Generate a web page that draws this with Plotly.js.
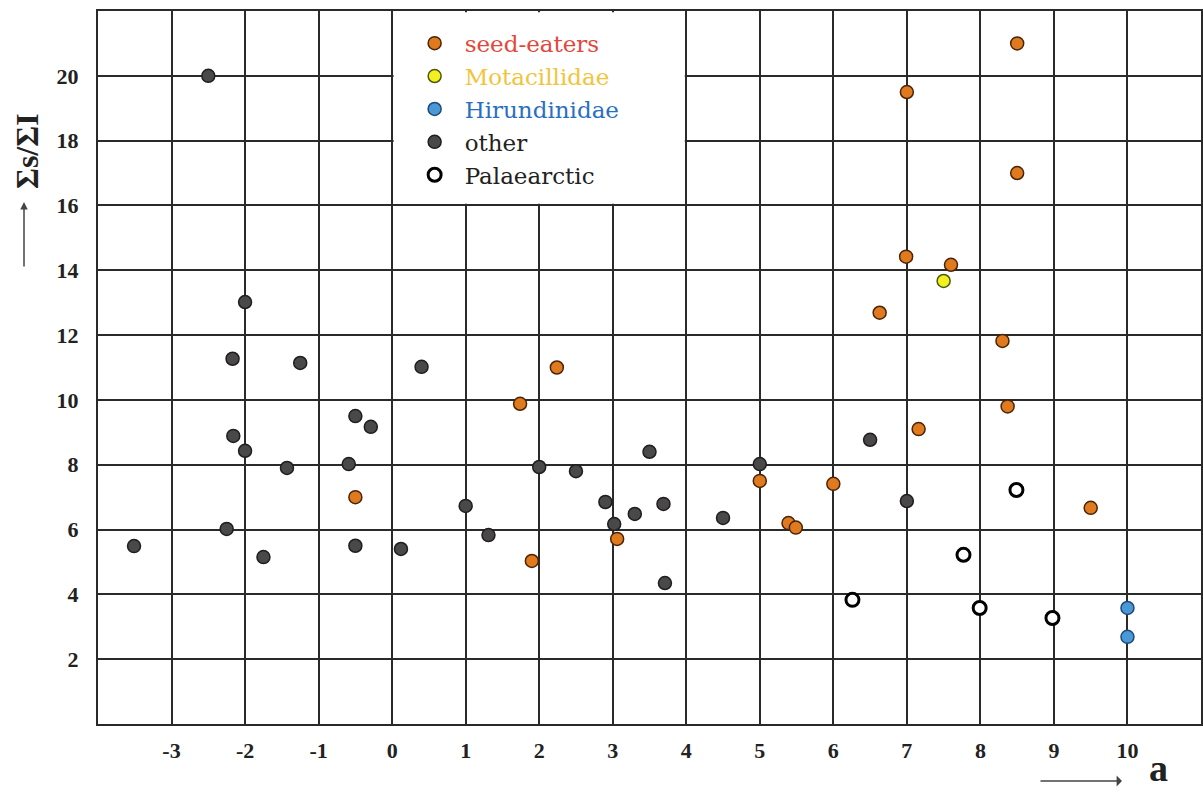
<!DOCTYPE html>
<html><head><meta charset="utf-8">
<script src="https://cdn.plot.ly/plotly-3.0.1.min.js"></script>
<style>html,body{margin:0;padding:0;background:#fff;} #chart{width:1203px;height:792px;}</style>
</head><body><div id="chart"></div>
<script>
// x tick labels
const xTicks = [-3,-2,-1,0,1,2,3,4,5,6,7,8,9,10];
const yTicks = [2,4,6,8,10,12,14,16,18,20];

// seed-eaters
const seedX = [-0.5, 1.74, 2.24, 1.9, 3.06, 5.0, 5.39, 5.49, 6.0, 7.16, 8.37, 8.3, 6.63, 6.99, 7.6, 8.5, 7.0, 8.5, 9.5];
const seedY = [7.0, 9.88, 11.0, 5.03, 5.71, 7.5, 6.2, 6.06, 7.41, 9.1, 9.8, 11.82, 12.69, 14.42, 14.17, 17.0, 19.5, 21.0, 6.67];

// Motacillidae
const motaX = [7.5];
const motaY = [13.67];

// Hirundinidae
const hiruX = [10.0, 10.0];
const hiruY = [3.58, 2.69];

// other
const otherX = [-2.5, -2.0, -2.17, -1.25, 0.4, -0.5, -0.29, -2.16, -2.0, -1.43, -0.59, 2.0, 2.5, 3.5, 5.0, 2.9, 3.69, 3.3, 3.02, 4.5, 1.0, 1.31, 3.71, 0.12, -3.51, -2.25, -1.75, -0.5, 7.0, 6.5];
const otherY = [20.0, 13.02, 11.27, 11.14, 11.02, 9.5, 9.17, 8.89, 8.43, 7.9, 8.02, 7.93, 7.8, 8.4, 8.02, 6.85, 6.79, 6.48, 6.17, 6.36, 6.73, 5.83, 4.35, 5.4, 5.49, 6.02, 5.15, 5.5, 6.88, 8.77];

// Palaearctic
const palX = [6.26, 7.77, 8.49, 7.99, 8.98];
const palY = [3.83, 5.22, 7.22, 3.58, 3.27];

const names = {
  seed: '<span style="color:#e2483a">seed-eaters</span>',
  mota: '<span style="color:#f2c43c">Motacillidae</span>',
  hiru: '<span style="color:#2a6fbf">Hirundinidae</span>',
  other: '<span style="color:#222">other</span>',
  pal: '<span style="color:#222">Palaearctic</span>'
};

const mk = (fill, line, lw) => ({size: 13, color: fill, line: {color: line, width: lw}});

const traces = [
  {x: seedX, y: seedY, name: names.seed, mode: 'markers', type: 'scatter', marker: mk('#e07a1e', '#4a2408', 1.5)},
  {x: motaX, y: motaY, name: names.mota, mode: 'markers', type: 'scatter', marker: mk('#f4f020', '#4a5a10', 1.5)},
  {x: hiruX, y: hiruY, name: names.hiru, mode: 'markers', type: 'scatter', marker: mk('#4a98d6', '#1c4a7a', 1.5)},
  {x: otherX, y: otherY, name: names.other, mode: 'markers', type: 'scatter', marker: mk('#4a4848', '#1e1e1e', 1.5)},
  {x: palX, y: palY, name: names.pal, mode: 'markers', type: 'scatter', marker: mk('#ffffff', '#000000', 3)}
];

const serif = 'Liberation Serif';
const tickFont = {family: serif, size: 22, color: '#222', weight: 'bold'};

const layout = {
  width: 1203, height: 792,
  margin: {l: 98, r: 2, t: 11, b: 68},
  paper_bgcolor: '#fff', plot_bgcolor: '#fff',
  showlegend: true,
  legend: {
    x: 0.278, xanchor: 'left', y: 0.985, yanchor: 'top',
    bgcolor: 'rgba(0,0,0,0)', borderwidth: 0,
    itemwidth: 50,
    font: {family: 'DejaVu Serif', size: 23, color: '#222'}
  },
  xaxis: {
    range: [-4, 11], tickvals: xTicks, ticktext: xTicks.map(String),
    showgrid: true, gridcolor: '#2a2a2a', gridwidth: 2,
    zeroline: false, showline: true, mirror: true, linecolor: '#2a2a2a', linewidth: 2,
    ticks: '', ticklabelstandoff: 6, tickfont: tickFont, fixedrange: true
  },
  yaxis: {
    range: [0, 22], tickvals: yTicks, ticktext: yTicks.map(String),
    showgrid: true, gridcolor: '#2a2a2a', gridwidth: 2,
    zeroline: false, showline: true, mirror: true, linecolor: '#2a2a2a', linewidth: 2,
    ticks: '', ticklabelstandoff: 13, tickfont: tickFont, fixedrange: true
  },
  shapes: [
    {type: 'rect', xref: 'x', yref: 'y', x0: 0.02, x1: 3.98, y0: 16.05, y1: 21.96,
     fillcolor: '#fff', line: {width: 0}, layer: 'above'}
  ],
  annotations: [
    {xref: 'paper', yref: 'paper', x: (27-98)/1103, y: (724-151)/713, xanchor: 'center', yanchor: 'middle',
     text: '<b>Σs/ΣI</b>', textangle: -90,
     showarrow: false, font: {family: serif, size: 32, color: '#222'}},
    {xref: 'paper', yref: 'paper', x: (24-98)/1103, y: (724-202)/713, ax: 0, ay: 66,
     text: '', showarrow: true, arrowhead: 2, arrowsize: 1, arrowwidth: 1.5, arrowcolor: '#444'},
    {xref: 'paper', yref: 'paper', x: (1158-98)/1103, y: (724-791)/713, xanchor: 'center', yanchor: 'bottom',
     text: '<b>a</b>',
     showarrow: false, font: {family: serif, size: 38, color: '#222'}},
    {xref: 'paper', yref: 'paper', x: (1122-98)/1103, y: (724-781)/713, ax: -83, ay: 0,
     text: '', showarrow: true, arrowhead: 1, arrowsize: 1.2, arrowwidth: 1.5, arrowcolor: '#444'}
  ]
};

Plotly.newPlot('chart', traces, layout, {displayModeBar: false, staticPlot: true});
</script></body></html>
